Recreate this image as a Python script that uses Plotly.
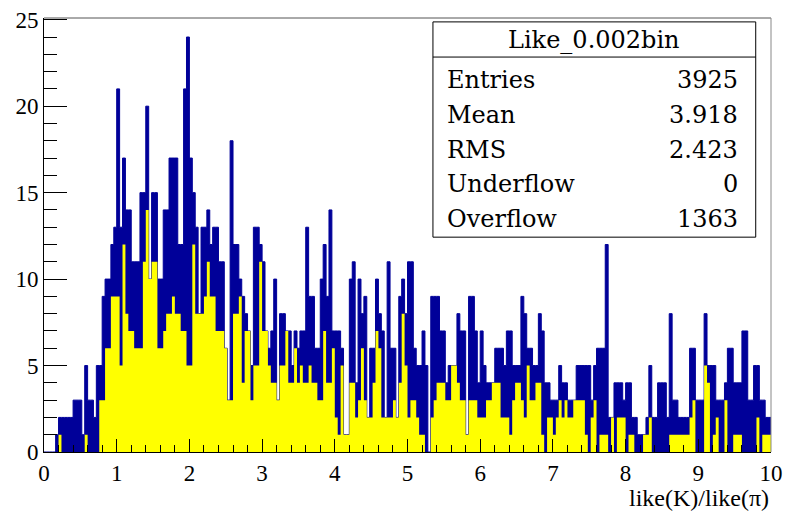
import numpy as np
import plotly.graph_objects as go

# Histogram binning: 250 bins of 0.04 over [0, 10]
x_min, x_max, n_bins = 0.0, 10.0, 250

# All entries per bin (navy histogram)
total_counts = [
    0, 0, 0, 0, 1, 2, 2, 2, 2, 2, 3, 3, 3, 1, 5, 3, 3, 2, 5, 5,
    9, 10, 10, 12, 13, 21, 13, 17, 14, 14, 11, 11, 11, 15, 15, 20, 10, 15, 15, 10,
    10, 14, 14, 17, 17, 17, 12, 12, 21, 24,
    17, 15, 13, 8, 13, 13, 14, 12, 13, 13, 11, 11, 6, 3, 18, 12, 12, 10, 9, 8,
    7, 5, 13, 13, 12, 11, 7, 6, 7, 10, 3, 8, 8, 7, 7, 5, 7, 6, 7, 7,
    13, 9, 9, 6, 6, 10, 12, 9, 14, 7,
    7, 7, 6, 1, 1, 10, 11, 4, 10, 8, 9, 2, 6, 6, 10, 8, 7, 2, 11, 6,
    6, 2, 9, 10, 8, 11, 11, 6, 5, 5, 7, 5, 0, 9, 9, 9, 7, 7, 4, 5,
    5, 5, 8, 7, 7, 1, 9, 9, 7, 4,
    7, 5, 4, 4, 4, 6, 6, 6, 5, 7, 7, 5, 5, 5, 9, 8, 6, 6, 5, 5,
    8, 7, 4, 4, 3, 3, 3, 5, 4, 4, 3, 3, 3, 5, 5, 5, 5, 5, 3, 5,
    6, 6, 6, 12, 2, 2, 4, 4, 4, 3,
    4, 4, 2, 2, 1, 1, 1, 2, 5, 2, 2, 4, 4, 4, 2, 8, 3, 3, 2, 2,
    2, 2, 6, 6, 3, 3, 3, 8, 5, 5, 5, 3, 3, 3, 4, 6, 6, 4, 4, 4,
    7, 7, 3, 3, 5, 5, 3, 3, 2, 2,
]

# Selected subset per bin (yellow histogram)
selected_counts = [
    0, 0, 0, 0, 0, 1, 0, 0, 0, 0, 0, 0, 0, 0, 1, 0, 0, 0, 0, 3,
    3, 6, 6, 9, 9, 9, 5, 12, 8, 7, 7, 6, 6, 6, 11, 14, 10, 11, 11, 6,
    6, 7, 8, 8, 9, 8, 8, 7, 7, 5,
    5, 12, 8, 8, 8, 9, 11, 9, 9, 7, 7, 7, 6, 3, 3, 8, 8, 9, 4, 7,
    7, 3, 5, 5, 11, 7, 7, 5, 4, 4, 3, 5, 5, 7, 4, 4, 6, 4, 5, 4,
    4, 5, 4, 4, 3, 3, 7, 4, 4, 6,
    2, 1, 5, 1, 1, 4, 4, 2, 3, 6, 3, 2, 2, 4, 7, 6, 2, 2, 2, 2,
    3, 2, 4, 8, 5, 2, 3, 3, 2, 1, 1, 0, 0, 2, 3, 4, 4, 4, 3, 3,
    5, 5, 4, 3, 3, 1, 3, 3, 3, 2,
    2, 2, 3, 3, 4, 4, 4, 2, 2, 2, 1, 3, 4, 4, 3, 2, 5, 3, 3, 4,
    4, 1, 0, 2, 2, 1, 2, 3, 2, 3, 2, 2, 3, 3, 3, 3, 1, 0, 2, 3,
    0, 1, 1, 1, 0, 2, 0, 2, 2, 2,
    0, 1, 1, 0, 0, 0, 1, 1, 2, 0, 0, 0, 0, 0, 0, 1, 1, 1, 1, 1,
    1, 1, 2, 3, 0, 0, 0, 5, 4, 0, 1, 2, 0, 0, 3, 0, 0, 1, 1, 1,
    0, 0, 0, 0, 0, 2, 0, 1, 1, 1,
]

# Statistics box contents
stats_title = "Like_0.002bin"
stats_names = ["Entries", "Mean", "RMS", "Underflow", "Overflow"]
stats_values = ["3925", "3.918", "2.423", "0", "1363"]

x_title = "like(K)/like(\u03c0)"

edges = np.linspace(x_min, x_max, n_bins + 1)


def step_points(counts):
    """Left bin edges plus the closing edge, for an 'hv' step outline."""
    return list(edges), list(counts) + [counts[-1]]


NAVY = "#000099"
YELLOW = "#ffff00"
TICK_FONT = "Liberation Serif"
STATS_FONT = "DejaVu Serif"
TITLE_FONT = "Liberation Serif"

fig = go.Figure()

bx, by = step_points(total_counts)
fig.add_trace(go.Scatter(
    x=bx, y=by, mode="lines", line_shape="hv",
    line=dict(color=NAVY, width=1), fill="tozeroy", fillcolor=NAVY,
    hoverinfo="skip", showlegend=False,
))

sx, sy = step_points(selected_counts)
fig.add_trace(go.Scatter(
    x=sx, y=sy, mode="lines", line_shape="hv",
    line=dict(color=YELLOW, width=0), fill="tozeroy", fillcolor=YELLOW,
    hoverinfo="skip", showlegend=False,
))

fig.update_xaxes(
    range=[x_min, x_max], showgrid=False, zeroline=False, automargin=False,
    showline=True, linecolor="black", linewidth=1,
    ticks="inside", ticklen=13, tickwidth=1, tickcolor="black",
    dtick=1, tick0=0,
    minor=dict(ticks="inside", ticklen=7, tickwidth=1, tickcolor="black", dtick=0.2),
    tickfont=dict(family=TICK_FONT, size=23, color="black"),
)
fig.update_yaxes(
    range=[0, 25.1], showgrid=False, zeroline=False, automargin=False,
    showline=True, linecolor="black", linewidth=1,
    ticks="inside", ticklen=23, tickwidth=1, tickcolor="black",
    dtick=5, tick0=0,
    minor=dict(ticks="inside", ticklen=13, tickwidth=1, tickcolor="black", dtick=1),
    tickfont=dict(family=TICK_FONT, size=23, color="black"),
)

shapes = [
    # upper and right frame edges
    dict(type="line", xref="paper", yref="paper", x0=0, x1=1, y0=1, y1=1,
         line=dict(color="#555555", width=1)),
    dict(type="line", xref="paper", yref="paper", x0=1, x1=1, y0=0, y1=1,
         line=dict(color="#888888", width=1)),
    # statistics box
    dict(type="rect", xref="paper", yref="paper", x0=0.535, x1=0.979, y0=0.495, y1=0.991,
         fillcolor="white", line=dict(color="black", width=1)),
    dict(type="line", xref="paper", yref="paper", x0=0.535, x1=0.979, y0=0.910, y1=0.910,
         line=dict(color="black", width=1)),
]

STATS_SIZE = 24
annotations = [
    dict(text=stats_title, xref="paper", yref="paper", x=0.757, y=0.949,
         xanchor="center", yanchor="middle", showarrow=False,
         font=dict(family=STATS_FONT, size=STATS_SIZE, color="black")),
    dict(text=x_title, xref="paper", yref="paper", x=1.0, y=-0.105,
         xanchor="right", yanchor="middle", showarrow=False,
         font=dict(family=TITLE_FONT, size=24, color="black")),
]
row_y = [0.857, 0.777, 0.697, 0.617, 0.537]
for name, value, yy in zip(stats_names, stats_values, row_y):
    annotations.append(dict(text=name, xref="paper", yref="paper", x=0.551, y=yy,
                            xanchor="left", yanchor="middle", showarrow=False,
                            font=dict(family=STATS_FONT, size=STATS_SIZE, color="black")))
    annotations.append(dict(text=value, xref="paper", yref="paper", x=0.958, y=yy,
                            xanchor="right", yanchor="middle", showarrow=False,
                            font=dict(family=STATS_FONT, size=STATS_SIZE, color="black")))

fig.update_layout(
    width=788, height=514,
    margin=dict(l=44, r=17, t=18, b=62),
    paper_bgcolor="white", plot_bgcolor="white",
    shapes=shapes, annotations=annotations,
    showlegend=False,
)

fig.write_html("out.html")
